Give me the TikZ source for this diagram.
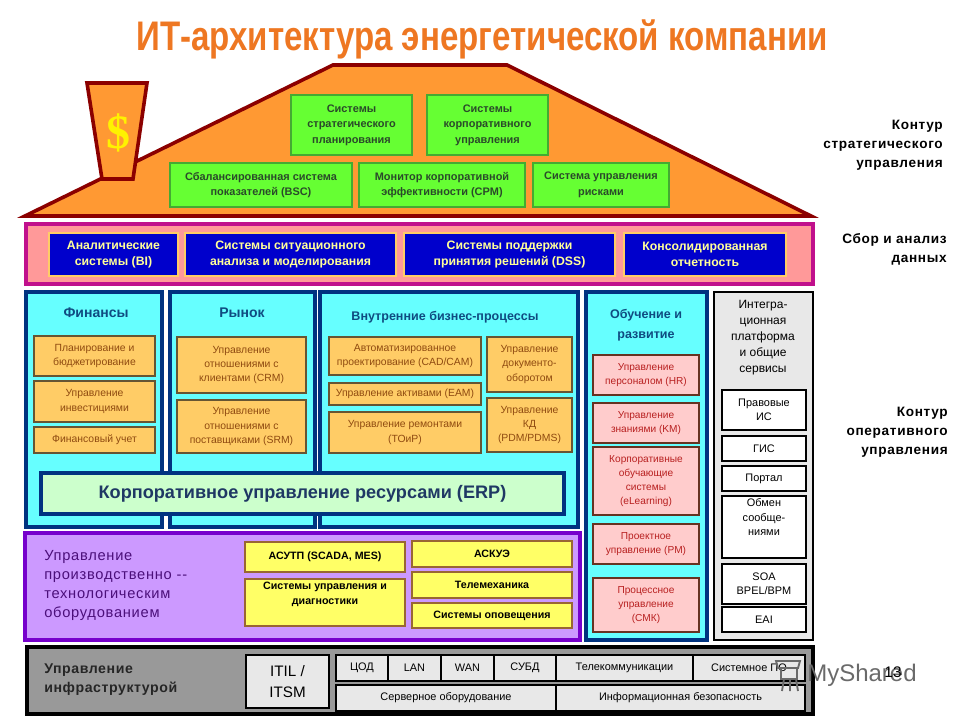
\documentclass[tikz,border=0pt]{standalone}
\usepackage{graphicx}
\usepackage{fontspec}
\setmainfont{Liberation Sans}
\newfontfamily\lsp[LetterSpace=5]{Liberation Sans}
\newfontfamily\lspb[LetterSpace=4,BoldFont={Liberation Sans Bold}]{Liberation Sans}
\newfontfamily\dollarfont{Liberation Serif}
\definecolor{dkred}{HTML}{8B0000}
\definecolor{roof}{HTML}{FF9933}
\definecolor{titleor}{HTML}{EE7722}
\definecolor{grn}{HTML}{66FF33}
\definecolor{grnb}{HTML}{44AA33}
\definecolor{grnt}{HTML}{2A4A2A}
\definecolor{mag}{HTML}{C0108C}
\definecolor{salmon}{HTML}{FF9999}
\definecolor{blu}{HTML}{0000CC}
\definecolor{bluet}{HTML}{FFFF99}
\definecolor{goldb}{HTML}{FFCC66}
\definecolor{navy}{HTML}{003380}
\definecolor{cyan1}{HTML}{66FFFF}
\definecolor{navyt}{HTML}{0F4C81}
\definecolor{ortx}{HTML}{8F4A10}
\definecolor{orb}{HTML}{665533}
\definecolor{pink}{HTML}{FFCCCC}
\definecolor{pinkb}{HTML}{663322}
\definecolor{pinkt}{HTML}{B82020}
\definecolor{erpf}{HTML}{CCFFCC}
\definecolor{erpt}{HTML}{1F3864}
\definecolor{lt}{HTML}{E8E8E8}
\definecolor{purp}{HTML}{CC99FF}
\definecolor{purpb}{HTML}{7700CC}
\definecolor{purpt}{HTML}{4B0F7A}
\definecolor{yel}{HTML}{FFFF66}
\definecolor{yelb}{HTML}{996633}
\definecolor{gry}{HTML}{999999}
\definecolor{wm}{HTML}{6A6A6A}
\newcommand{\bx}[7]{\node[#2,minimum width={(#5-#3)*0.75pt},minimum height={(#6-#4)*0.75pt}] (#1) at ({(#3+#5)/2},{(#4+#6)/2}) {#7};}
\tikzset{
  basebox/.style={inner sep=0pt,outer sep=0pt,align=center},
  greenbox/.style={basebox,draw=grnb,fill=grn,line width=1.5pt,text=grnt,font=\fontsize{8.2}{11.6}\selectfont\bfseries},
  bluebox/.style={basebox,draw=goldb,fill=blu,line width=1.2pt,text=bluet,font=\fontsize{9.2}{12}\selectfont\bfseries},
  colbox/.style={basebox,draw=navy,fill=cyan1,line width=3pt},
  orbox/.style={basebox,draw=orb,fill=goldb,line width=1.5pt,text=ortx,font=\fontsize{7.8}{10.8}\selectfont},
  pkbox/.style={basebox,draw=pinkb,fill=pink,line width=1.5pt,text=pinkt,font=\fontsize{7.6}{10.6}\selectfont},
  whbox/.style={basebox,draw=black,fill=white,line width=1.6pt,text=black,font=\fontsize{8.2}{10.8}\selectfont},
  ylbox/.style={basebox,draw=yelb,fill=yel,line width=1.5pt,text=black,font=\fontsize{8}{11}\selectfont\bfseries},
  ltbox/.style={basebox,draw=black,fill=lt,line width=1.4pt,text=black,font=\fontsize{8.2}{11}\selectfont},
  coltitle/.style={inner sep=0pt,align=center,text=navyt},
  sidelabel/.style={inner sep=0pt,align=right,anchor=east,text=black,font=\lsp\fontsize{10.2}{14.4}\selectfont}
}
\begin{document}
\begin{tikzpicture}[x=0.75pt,y=-0.75pt]
\useasboundingbox (0,0) rectangle (960,720);
% title
\node[inner sep=0pt,text=titleor] (title) at (482,39) {\scalebox{0.8}[1]{\fontsize{31}{36}\selectfont\bfseries ИТ-архитектура энергетической компании}};
% house
\draw[dkred,fill=roof,line width=2.7pt,miter limit=8] (25,216) -- (333,65) -- (507,65) -- (811,216) -- cycle;
\draw[dkred,fill=roof,line width=2.7pt] (87,83) -- (147,83) -- (133,179) -- (102,179) -- cycle;
\node[inner sep=0pt,text=yellow,font=\dollarfont\fontsize{36}{40}\selectfont\bfseries] (dollar) at (118,133) {\$};
\bx{g1}{greenbox}{291}{95}{412}{155}{Системы\\стратегического\\планирования}
\bx{g2}{greenbox}{427}{95}{548}{155}{Системы\\корпоративного\\управления}
\bx{g3}{greenbox}{170}{163}{352}{207}{Сбалансированная система\\показателей (BSC)}
\bx{g4}{greenbox}{359}{163}{525}{207}{Монитор корпоративной\\эффективности (CPM)}
\bx{g5}{greenbox}{533}{163}{669}{207}{Система управления\\рисками}
% band
\bx{band}{basebox,draw=mag,fill=salmon,line width=3pt}{26}{224}{813}{284}{}
\bx{b1}{bluebox}{49}{233}{178}{276}{Аналитические\\системы (BI)}
\bx{b2}{bluebox}{185}{233}{396}{276}{Системы ситуационного\\анализа и моделирования}
\bx{b3}{bluebox}{404}{233}{615}{276}{Системы поддержки\\принятия решений (DSS)}
\bx{b4}{bluebox}{624}{233}{786}{276}{Консолидированная\\отчетность}
% columns
\bx{c1}{colbox}{26}{292}{162}{527}{}
\bx{c2}{colbox}{170}{292}{315}{527}{}
\bx{c3}{colbox}{320}{292}{578}{527}{}
\bx{c4}{colbox}{586}{292}{707}{640}{}
\bx{c5}{basebox,draw=black,fill=lt,line width=1.6pt}{714}{292}{813}{640}{}
\node[coltitle,font=\fontsize{10.5}{14}\selectfont\bfseries] (t1) at (96,313) {Финансы};
\node[coltitle,font=\fontsize{10.5}{14}\selectfont\bfseries] (t2) at (242,313) {Рынок};
\node[coltitle,font=\fontsize{9.4}{14}\selectfont\bfseries] (t3) at (445,317) {Внутренние бизнес-процессы};
\node[coltitle,font=\fontsize{9.4}{14.6}\selectfont\bfseries] (t4) at (646,325) {Обучение и\\развитие};
\node[inner sep=0pt,align=center,font=\fontsize{9}{12}\selectfont] (t5) at (763,338) {Интегра-\\ционная\\платформа\\и общие\\сервисы};
\bx{f1}{orbox}{34}{336}{155}{376}{Планирование и\\бюджетирование}
\bx{f2}{orbox}{34}{381}{155}{422}{Управление\\инвестициями}
\bx{f3}{orbox}{34}{427}{155}{453}{Финансовый учет}
\bx{m1}{orbox}{177}{337}{306}{393}{Управление\\отношениями с\\клиентами (CRM)}
\bx{m2}{orbox}{177}{400}{306}{453}{Управление\\отношениями с\\поставщиками (SRM)}
\bx{i1}{orbox}{329}{337}{481}{375}{Автоматизированное\\проектирование (CAD/CAM)}
\bx{i2}{orbox}{329}{383}{481}{405}{Управление активами (EAM)}
\bx{i3}{orbox}{329}{412}{481}{453}{Управление ремонтами\\(ТОиР)}
\bx{i4}{orbox}{487}{337}{572}{392}{Управление\\документо-\\оборотом}
\bx{i5}{orbox}{487}{398}{572}{452}{Управление\\КД\\(PDM/PDMS)}
\bx{erp}{basebox,draw=navy,fill=erpf,line width=3pt,text=erpt,font=\fontsize{13.6}{16}\selectfont\bfseries}{41}{473}{564}{514}{Корпоративное управление ресурсами (ERP)}
\bx{l1}{pkbox}{593}{355}{699}{395}{Управление\\персоналом (HR)}
\bx{l2}{pkbox}{593}{403}{699}{443}{Управление\\знаниями (KM)}
\bx{l3}{pkbox}{593}{447}{699}{515}{Корпоративные\\обучающие\\системы\\(eLearning)}
\bx{l4}{pkbox}{593}{524}{699}{564}{Проектное\\управление (PM)}
\bx{l5}{pkbox}{593}{578}{699}{632}{Процессное\\управление\\(СМК)}
\bx{w1}{whbox}{722}{390}{806}{430}{Правовые\\ИС}
\bx{w2}{whbox}{722}{436}{806}{461}{ГИС}
\bx{w3}{whbox}{722}{466}{806}{491}{Портал}
\bx{w4}{whbox}{722}{496}{806}{558}{Обмен\\сообще-\\ниями\\[4pt]}
\bx{w5}{whbox}{722}{564}{806}{604}{SOA\\BPEL/BPM}
\bx{w6}{whbox}{722}{607}{806}{632}{EAI}
% purple panel
\bx{pp}{basebox,draw=purpb,fill=purp,line width=2.6pt}{25}{533}{580}{640}{}
\node[inner sep=0pt,align=left,anchor=west,text=purpt,font=\lsp\fontsize{11}{14.3}\selectfont] (pt) at (44,585.5) {Управление\\производственно --\\технологическим\\оборудованием};
\bx{y1}{ylbox}{245}{542}{405}{572}{АСУТП (SCADA, MES)}
\bx{y2}{ylbox}{245}{579}{405}{626}{Системы управления  и\\диагностики\\[3pt]}
\bx{y3}{ylbox}{412}{541}{572}{567}{АСКУЭ}
\bx{y4}{ylbox}{412}{572}{572}{598}{Телемеханика}
\bx{y5}{ylbox}{412}{603}{572}{628}{Системы оповещения}
% bottom panel
\bx{bp}{basebox,draw=black,fill=gry,line width=3.6pt}{27}{647}{813}{714}{}
\node[inner sep=0pt,align=left,anchor=west,text=black!85,font=\lspb\fontsize{10.6}{14.3}\selectfont\bfseries] (bt) at (44,680) {Управление\\инфраструктурой};
\bx{it}{ltbox,line width=1.8pt,font=\fontsize{11.4}{15.6}\selectfont}{246}{655}{329}{708}{ITIL /\\ITSM}
\bx{n1}{ltbox}{336}{655}{388}{681}{ЦОД}
\bx{n2}{ltbox}{388}{655}{441}{681}{LAN}
\bx{n3}{ltbox}{441}{655}{494}{681}{WAN}
\bx{n4}{ltbox}{494}{655}{556}{681}{СУБД}
\bx{n5}{ltbox}{556}{655}{693}{681}{Телекоммуникации}
\bx{n6}{ltbox}{693}{655}{805}{681}{Системное ПО}
\bx{n7}{ltbox}{336}{685}{556}{711}{Серверное оборудование}
\bx{n8}{ltbox}{556}{685}{805}{711}{Информационная безопасность}
% side labels
\node[sidelabel,font=\lsp\bfseries\fontsize{10.2}{14.4}\selectfont] (s1) at (943,145) {Контур\\стратегического\\управления};
\node[sidelabel,font=\lsp\bfseries\fontsize{10.2}{14.4}\selectfont] (s2) at (947,249) {Сбор и анализ\\данных};
\node[sidelabel,font=\lsp\bfseries\fontsize{10.2}{14.4}\selectfont] (s3) at (948,432) {Контур\\оперативного\\управления};
% watermark
\begin{scope}[draw=wm,line width=1.4pt]
\draw (776,661) -- (800,661) -- (798,668) -- (778,668) -- cycle;
\draw (781,668) -- (781,679) -- (797,679) -- (797,668);
\draw (784,679) -- (782,691) (790,679) -- (790,691) (796,679) -- (798,691);
\end{scope}
\node[inner sep=0pt,anchor=west,text=wm,font=\fontsize{18}{20}\selectfont] (wmk) at (807,675) {MyShared};
\node[inner sep=0pt,text=black,font=\fontsize{11.5}{14}\selectfont] (pg) at (893,672) {13};
\end{tikzpicture}
\end{document}
